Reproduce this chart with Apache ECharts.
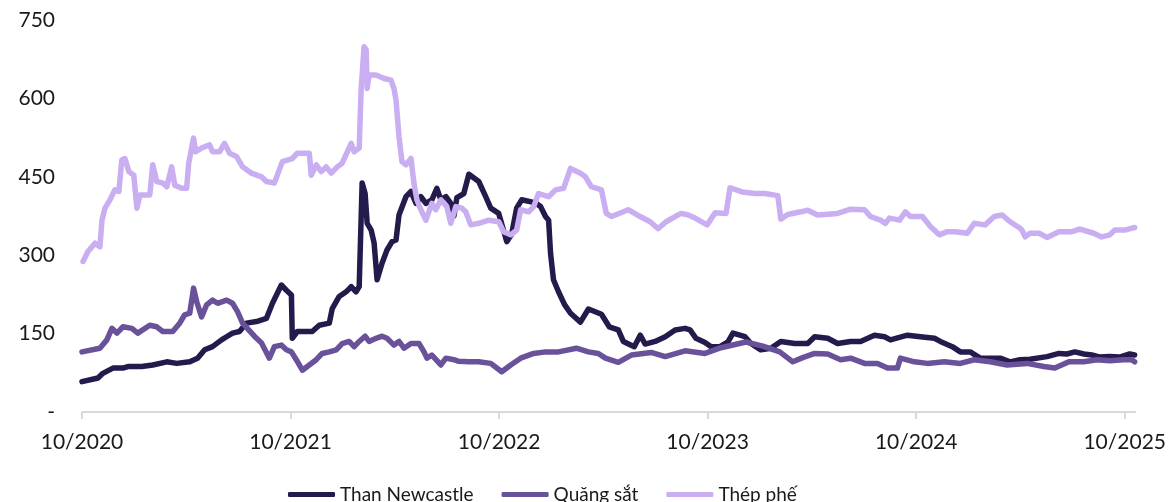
<!DOCTYPE html>
<html>
<head>
<meta charset="utf-8">
<script src="https://cdn.jsdelivr.net/npm/echarts@6/dist/echarts.min.js"></script>
<style>
  html, body { margin: 0; padding: 0; background: #ffffff; }
  #chart { width: 1169px; height: 502px; }
</style>
</head>
<body>
<div id="chart"></div>
<script>
// Series names (legend order)
const seriesNames = ['Than Newcastle', 'Quặng sắt', 'Thép phế'];

// x = months since 10/2020, y = price index level
const coalNewcastle = [
  [0, 58], [0.92, 65], [1.2, 74], [1.78, 84], [2.35, 84], [2.64, 87], [3.44, 87], [4.07, 90],
  [4.88, 96], [5.45, 93], [6.2, 96], [6.65, 103], [7.06, 119], [7.51, 125], [8.03, 138], [8.32, 144],
  [8.66, 151], [9.06, 154], [9.46, 170], [10.04, 173], [10.61, 179], [10.96, 208], [11.47, 243], [11.76, 233],
  [12.05, 224], [12.1, 141], [12.39, 154], [13.25, 154], [13.65, 166], [14.23, 170], [14.4, 198], [14.8, 221],
  [15.2, 230], [15.49, 240], [15.77, 230], [15.95, 240], [16.12, 438], [16.29, 418], [16.41, 361], [16.64, 348],
  [16.81, 323], [16.98, 253], [17.27, 285], [17.55, 310], [17.84, 326], [18.07, 329], [18.24, 377], [18.64, 412],
  [18.93, 422], [19.22, 399], [19.5, 412], [19.79, 399], [20.13, 406], [20.42, 428], [20.65, 406], [20.94, 412],
  [21.22, 399], [21.4, 375], [21.57, 410], [21.97, 418], [22.26, 455], [22.83, 441], [23.23, 412], [23.52, 390],
  [23.98, 380], [24.44, 326], [24.72, 340], [25.01, 390], [25.3, 406], [26.1, 400], [26.39, 393], [26.67, 374],
  [26.85, 367], [26.96, 304], [27.13, 253], [27.42, 230], [27.76, 206], [28.11, 189], [28.68, 172], [29.14, 197],
  [29.89, 187], [30.34, 163], [30.86, 157], [31.15, 135], [31.78, 125], [32.12, 147], [32.41, 130], [32.98, 135],
  [33.56, 144], [34.13, 157], [34.7, 160], [34.99, 157], [35.33, 141], [35.85, 133], [36.2, 125], [36.71, 125],
  [37.17, 134], [37.46, 151], [38.15, 144], [38.49, 131], [39.06, 119], [39.64, 122], [40.21, 135], [41.01, 131],
  [41.76, 131], [42.16, 144], [42.91, 141], [43.48, 131], [44.23, 135], [44.8, 135], [45.6, 147], [46.18, 144],
  [46.52, 138], [47.5, 147], [48.24, 144], [49.05, 141], [49.39, 135], [50.08, 125], [50.54, 115], [51.11, 115],
  [51.68, 103], [52.26, 103], [52.83, 103], [53.4, 96], [53.98, 100], [54.55, 101], [55.53, 106], [56.22, 112],
  [56.67, 111], [57.13, 115], [57.65, 111], [58.11, 109], [58.57, 105], [59.14, 106], [59.71, 105], [60.29, 111],
  [60.57, 109]
];

const ironOre = [
  [0, 115], [1.03, 122], [1.43, 138], [1.72, 160], [2.01, 151], [2.35, 163], [2.87, 160], [3.21, 151],
  [3.9, 166], [4.3, 163], [4.65, 154], [5.22, 154], [5.62, 170], [5.91, 186], [6.2, 189], [6.42, 237],
  [6.6, 211], [6.88, 182], [7.17, 205], [7.51, 214], [7.8, 208], [8.32, 214], [8.66, 208], [8.95, 192],
  [9.24, 170], [9.92, 145], [10.33, 132], [10.78, 103], [11.07, 125], [11.47, 128], [11.76, 119], [12.05, 115],
  [12.33, 100], [12.68, 80], [13.08, 90], [13.48, 100], [13.82, 112], [14.23, 115], [14.63, 119], [14.97, 131],
  [15.37, 135], [15.66, 125], [15.95, 135], [16.29, 145], [16.52, 135], [16.92, 141], [17.27, 145], [17.55, 141],
  [17.95, 128], [18.24, 135], [18.53, 122], [18.93, 131], [19.39, 131], [19.68, 115], [19.85, 103], [20.13, 109],
  [20.65, 90], [20.94, 103], [21.4, 100], [21.68, 97], [22.26, 96], [22.83, 96], [23.52, 93], [24.15, 77],
  [24.67, 90], [25.24, 103], [25.99, 112], [26.67, 115], [27.42, 115], [28.45, 122], [29.14, 115], [29.71, 112],
  [30.12, 103], [30.86, 95], [31.61, 109], [32.75, 114], [33.56, 106], [34.7, 117], [35.85, 112], [36.77, 123],
  [38.2, 134], [39.18, 126], [40.15, 115], [40.9, 96], [41.47, 104], [42.16, 112], [42.91, 111], [43.65, 100],
  [44.23, 103], [45.03, 93], [45.77, 93], [46.35, 84], [46.92, 84], [47.09, 103], [47.9, 96], [48.64, 93],
  [49.62, 96], [50.54, 93], [51.34, 100], [52.26, 96], [53.23, 90], [54.38, 93], [55.35, 87], [55.98, 84],
  [56.79, 96], [57.65, 96], [58.4, 100], [59.14, 98], [59.94, 100], [60.4, 100], [60.57, 96]
];

const steelScrap = [
  [0.06, 288], [0.34, 307], [0.75, 323], [1.03, 316], [1.15, 367], [1.32, 390], [1.61, 406], [1.89, 425],
  [2.12, 422], [2.29, 482], [2.47, 485], [2.7, 460], [2.98, 453], [3.16, 390], [3.33, 415], [3.9, 415],
  [4.07, 473], [4.3, 441], [4.65, 438], [4.88, 431], [5.16, 469], [5.34, 434], [5.74, 428], [6.02, 428],
  [6.14, 476], [6.42, 524], [6.54, 498], [6.88, 505], [7.34, 511], [7.51, 498], [7.92, 498], [8.2, 514],
  [8.49, 495], [8.89, 489], [9.24, 469], [9.75, 457], [10.33, 450], [10.61, 441], [11.07, 438], [11.53, 479],
  [12.1, 485], [12.39, 495], [13.08, 495], [13.19, 453], [13.48, 473], [13.77, 460], [14.05, 469], [14.34, 457],
  [14.69, 469], [14.97, 476], [15.49, 514], [15.66, 498], [15.95, 505], [16.06, 616], [16.23, 699], [16.35, 693],
  [16.41, 619], [16.52, 645], [16.92, 645], [17.38, 638], [17.78, 635], [17.95, 619], [18.07, 597], [18.24, 527],
  [18.41, 479], [18.64, 473], [18.93, 485], [19.1, 438], [19.27, 406], [19.5, 387], [19.79, 367], [20.13, 399],
  [20.36, 387], [20.65, 406], [20.99, 393], [21.22, 361], [21.51, 393], [21.86, 390], [22.08, 383], [22.37, 358],
  [22.83, 361], [23.41, 367], [23.98, 364], [24.26, 345], [24.67, 339], [25.01, 348], [25.24, 387], [25.7, 383],
  [25.99, 393], [26.27, 418], [26.85, 412], [27.25, 425], [27.71, 428], [28.11, 466], [28.68, 457], [28.97, 450],
  [29.31, 431], [29.89, 425], [30.17, 380], [30.46, 374], [30.69, 377], [31.43, 387], [32.12, 374], [32.69, 364],
  [33.15, 351], [33.61, 364], [34.13, 374], [34.47, 380], [34.88, 377], [35.28, 371], [35.97, 358], [36.43, 381],
  [37.06, 380], [37.29, 429], [37.98, 421], [38.72, 418], [39.29, 418], [40.04, 414], [40.21, 369], [40.61, 378],
  [41.36, 383], [41.76, 386], [42.33, 377], [43.48, 380], [44.23, 388], [45.03, 387], [45.37, 374], [45.95, 367],
  [46.23, 361], [46.46, 371], [47.04, 367], [47.38, 383], [47.67, 374], [48.36, 374], [48.82, 355], [49.33, 339],
  [49.79, 345], [50.25, 345], [50.94, 342], [51.34, 361], [51.97, 358], [52.49, 374], [52.95, 377], [53.4, 364],
  [53.92, 353], [54.09, 348], [54.27, 335], [54.55, 342], [55.07, 342], [55.53, 334], [56.22, 345], [56.96, 345],
  [57.42, 350], [58.22, 342], [58.68, 335], [59.14, 339], [59.43, 348], [60.0, 348], [60.57, 353]
];

// Tick positions (months since 10/2020) and their labels
const tickMonths = [0, 12, 24, 36, 48, 60];
const tickLabels = ['10/2020', '10/2021', '10/2022', '10/2023', '10/2024', '10/2025'];

const colors = ['#251a4c', '#6a529b', '#c9aef1'];
const fontFamily = 'Lato, "Noto Sans", sans-serif';

const chart = echarts.init(document.getElementById('chart'), null, { renderer: 'canvas' });

const seriesData = [coalNewcastle, ironOre, steelScrap];

chart.setOption({
  animation: false,
  backgroundColor: '#ffffff',
  color: colors,
  grid: { left: 82, right: 31, top: 20, bottom: 90, containLabel: false },
  legend: {
    data: seriesNames,
    left: 283,
    top: 480,
    itemWidth: 47,
    itemHeight: 5,
    itemGap: 28,
    icon: 'roundRect',
    textStyle: { fontFamily: fontFamily, fontSize: 19, color: '#1a1a1a' }
  },
  xAxis: {
    type: 'value',
    min: 0,
    max: 60.6,
    axisLine: { show: true, lineStyle: { color: '#d9d9d9', width: 2 } },
    axisTick: {
      show: true,
      customValues: tickMonths,
      length: 7,
      lineStyle: { color: '#d9d9d9', width: 2 }
    },
    axisLabel: {
      customValues: tickMonths,
      formatter: function (v) {
        const i = tickMonths.indexOf(Math.round(v));
        return i >= 0 ? tickLabels[i] : '';
      },
      margin: 20,
      fontFamily: fontFamily,
      fontSize: 21,
      color: '#1a1a1a'
    },
    splitLine: { show: false }
  },
  yAxis: {
    type: 'value',
    min: 0,
    max: 750,
    interval: 150,
    axisLine: { show: false },
    axisTick: { show: false },
    splitLine: { show: false },
    axisLabel: {
      formatter: function (v) { return v === 0 ? '-' : String(v); },
      margin: 27,
      fontFamily: fontFamily,
      fontSize: 21,
      color: '#1a1a1a'
    }
  },
  series: seriesNames.map(function (name, i) {
    return {
      name: name,
      type: 'line',
      data: seriesData[i],
      showSymbol: false,
      symbol: 'none',
      lineStyle: { width: 5.5, color: colors[i], cap: 'round', join: 'round' },
      itemStyle: { color: colors[i] },
      z: 2 + i
    };
  })
});
</script>
</body>
</html>
